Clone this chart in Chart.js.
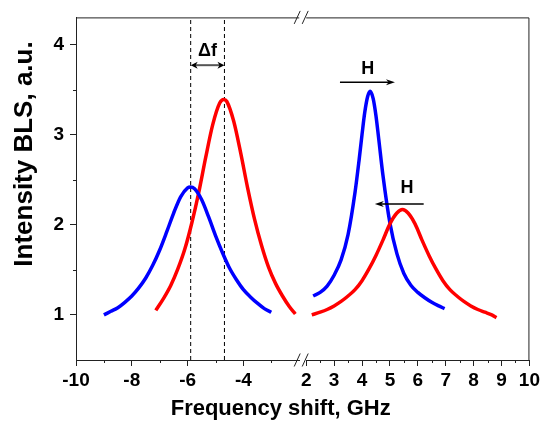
<!DOCTYPE html>
<html>
<head>
<meta charset="utf-8">
<script src="https://cdn.jsdelivr.net/npm/chart.js@4.4.0/dist/chart.umd.min.js"></script>
<style>
  html, body { margin: 0; padding: 0; background: #fff; }
</style>
</head>
<body>
<canvas id="myChart" width="543" height="424"></canvas>
<script>
// broken x axis: left panel -10..-2, right panel 2..10
var xLeftTicks = [-10, -8, -6, -4];
var xLeftMinor = [-9, -7, -5, -3];
var xRightTicks = [2, 3, 4, 5, 6, 7, 8, 9, 10];
var xRightMinor = [2.5, 3.5, 4.5, 5.5, 6.5, 7.5, 8.5, 9.5];
var yTicks = [1, 2, 3, 4];
var yMinor = [1.5, 2.5, 3.5];
var yMin = 0.5, yMax = 4.3;

// left (anti-Stokes) peaks
var blueLeftX = [-9, -8.75, -8.5, -8.25, -8, -7.75, -7.5, -7.25, -7, -6.75, -6.5, -6.25, -6, -5.9, -5.75, -5.5, -5.25, -5, -4.75, -4.5, -4.25, -4, -3.75, -3.5, -3.25, -3];
var blueLeftY = [1.00, 1.04, 1.08, 1.14, 1.21, 1.30, 1.41, 1.55, 1.72, 1.92, 2.13, 2.31, 2.41, 2.42, 2.40, 2.28, 2.09, 1.88, 1.69, 1.52, 1.39, 1.28, 1.20, 1.13, 1.07, 1.03];
var redLeftX = [-7.14, -6.85, -6.6, -6.35, -6.1, -5.85, -5.6, -5.35, -5.1, -4.85, -4.71, -4.6, -4.35, -4.1, -3.85, -3.6, -3.35, -3.1, -2.85, -2.6, -2.35, -2.14];
var redLeftY = [1.05, 1.19, 1.33, 1.51, 1.73, 2.02, 2.36, 2.75, 3.11, 3.35, 3.39, 3.37, 3.15, 2.80, 2.41, 2.06, 1.77, 1.53, 1.35, 1.21, 1.09, 1.01];

// right (Stokes) peaks
var blueRightX = [2.25, 2.5, 2.75, 3, 3.25, 3.5, 3.75, 3.9, 4, 4.1, 4.2, 4.29, 4.4, 4.5, 4.6, 4.75, 5, 5.25, 5.5, 5.75, 6, 6.25, 6.5, 6.75, 6.96];
var blueRightY = [1.21, 1.25, 1.32, 1.44, 1.61, 1.89, 2.36, 2.73, 3.00, 3.25, 3.42, 3.48, 3.40, 3.21, 2.95, 2.55, 2.02, 1.68, 1.46, 1.33, 1.25, 1.19, 1.14, 1.10, 1.07];
var redRightX = [2.2, 2.5, 2.75, 3, 3.25, 3.5, 3.75, 4, 4.25, 4.5, 4.75, 5, 5.25, 5.45, 5.65, 5.9, 6.15, 6.4, 6.65, 6.9, 7.15, 7.4, 7.65, 7.9, 8.15, 8.4, 8.65, 8.82];
var redRightY = [1.00, 1.03, 1.06, 1.10, 1.15, 1.21, 1.28, 1.38, 1.51, 1.66, 1.83, 2.01, 2.13, 2.17, 2.13, 2.01, 1.83, 1.66, 1.51, 1.38, 1.28, 1.21, 1.15, 1.10, 1.06, 1.03, 1.00, 0.97];

// annotations
var dashX = [-5.89, -4.68];
var deltaY = 3.77;
var deltaLabel = {x: -5.29, y: 3.93, text: "\u0394f"};
var hArrows = [{from: 3.21, to: 5.18, y: 3.58}, {from: 6.21, to: 4.46, y: 2.23}];
var hLabels = [{x: 4.21, y: 3.73, text: "H"}, {x: 5.61, y: 2.41, text: "H"}];
var xTitle = "Frequency shift, GHz";
var yTitle = "Intensity BLS, a.u.";

var FONT = '"Liberation Sans", Arial, sans-serif';
Chart.defaults.font.family = FONT;
Chart.defaults.color = "#000";

function pts(xs, ys) {
    return xs.map(function (x, i) { return {x: x, y: ys[i]}; });
}

function curve(xs, ys, color, axis) {
    return {
        data: pts(xs, ys),
        xAxisID: axis,
        borderColor: color,
        borderWidth: 3.5,
        pointRadius: 0,
        tension: 0.4,
        cubicInterpolationMode: "monotone",
        fill: false
    };
}

function dashLine(x) {
    return {
        data: [{x: x, y: yMin}, {x: x, y: yMax}],
        xAxisID: "xL",
        borderColor: "#000",
        borderWidth: 1,
        borderDash: [4, 3],
        pointRadius: 0,
        fill: false
    };
}

function head(ctx, x, y, dir, len, half) {
    ctx.beginPath();
    ctx.moveTo(x, y);
    ctx.lineTo(x - dir * len, y - half);
    ctx.lineTo(x - dir * len * 0.7, y);
    ctx.lineTo(x - dir * len, y + half);
    ctx.closePath();
    ctx.fill();
}

var extras = {
    id: "extras",
    afterDraw: function (chart) {
        var ctx = chart.ctx;
        var a = chart.chartArea;
        var xl = chart.scales.xL, xr = chart.scales.xR, y = chart.scales.y;
        ctx.save();

        // frame: top and right
        ctx.strokeStyle = "#222";
        ctx.lineWidth = 1;
        ctx.beginPath();
        ctx.moveTo(xl.left, a.top + 0.5);
        ctx.lineTo(xl.right, a.top + 0.5);
        ctx.moveTo(xr.left, a.top + 0.5);
        ctx.lineTo(xr.right - 0.5, a.top + 0.5);
        ctx.lineTo(xr.right - 0.5, a.bottom);
        ctx.stroke();

        // break marks
        var mid = (xl.right + xr.left) / 2;
        [a.top, a.bottom].forEach(function (yy) {
            ctx.beginPath();
            ctx.moveTo(mid - 8.5, yy + 6.5);
            ctx.lineTo(mid - 2.5, yy - 6.5);
            ctx.moveTo(mid - 0.5, yy + 6.5);
            ctx.lineTo(mid + 5.5, yy - 6.5);
            ctx.stroke();
        });

        // minor ticks
        ctx.beginPath();
        xLeftMinor.forEach(function (v) {
            var px = Math.round(xl.getPixelForValue(v)) + 0.5;
            ctx.moveTo(px, a.bottom);
            ctx.lineTo(px, a.bottom + 3);
        });
        xRightMinor.forEach(function (v) {
            var px = Math.round(xr.getPixelForValue(v)) + 0.5;
            ctx.moveTo(px, a.bottom);
            ctx.lineTo(px, a.bottom + 3);
        });
        yMinor.forEach(function (v) {
            var py = Math.round(y.getPixelForValue(v)) + 0.5;
            ctx.moveTo(a.left, py);
            ctx.lineTo(a.left - 3, py);
        });
        ctx.stroke();

        // delta f double arrow
        var dx1 = xl.getPixelForValue(dashX[0]), dx2 = xl.getPixelForValue(dashX[1]);
        var dy = y.getPixelForValue(deltaY);
        ctx.strokeStyle = "#555";
        ctx.lineWidth = 2;
        ctx.beginPath();
        ctx.moveTo(dx1 + 4, dy);
        ctx.lineTo(dx2 - 4, dy);
        ctx.stroke();
        ctx.fillStyle = "#000";
        head(ctx, dx1, dy, -1, 7, 3.5);
        head(ctx, dx2, dy, 1, 7, 3.5);

        // H arrows
        ctx.strokeStyle = "#000";
        ctx.lineWidth = 1.5;
        hArrows.forEach(function (h) {
            var x1 = xr.getPixelForValue(h.from), x2 = xr.getPixelForValue(h.to);
            var py = y.getPixelForValue(h.y);
            var dir = x2 > x1 ? 1 : -1;
            ctx.beginPath();
            ctx.moveTo(x1, py);
            ctx.lineTo(x2 - dir * 5, py);
            ctx.stroke();
            head(ctx, x2, py, dir, 9, 3);
        });

        // labels
        ctx.font = "bold 18px " + FONT;
        ctx.textAlign = "center";
        ctx.textBaseline = "middle";
        ctx.fillText(deltaLabel.text, xl.getPixelForValue(deltaLabel.x), y.getPixelForValue(deltaLabel.y));
        hLabels.forEach(function (l) {
            ctx.fillText(l.text, xr.getPixelForValue(l.x), y.getPixelForValue(l.y));
        });

        // axis titles
        ctx.font = "bold 22px " + FONT;
        ctx.fillText(xTitle, (a.left + a.right) / 2 - 22, 409);
        ctx.translate(25, 154);
        ctx.rotate(-Math.PI / 2);
        ctx.font = "bold 26px " + FONT;
        ctx.fillText(yTitle, 0, 0);

        ctx.restore();
    }
};

var tickFont = {size: 19, weight: "bold"};
var axisGrid = {drawOnChartArea: false, tickLength: 6, color: "#222", lineWidth: 1};
var axisBorder = {color: "#222", width: 1};

var myChart = new Chart(document.getElementById("myChart"), {
    type: "line",
    data: {
        datasets: [
            curve(blueLeftX, blueLeftY, "#0000ff", "xL"),
            curve(redLeftX, redLeftY, "#ff0000", "xL"),
            curve(redRightX, redRightY, "#ff0000", "xR"),
            curve(blueRightX, blueRightY, "#0000ff", "xR"),
            dashLine(dashX[0]),
            dashLine(dashX[1])
        ]
    },
    options: {
        responsive: false,
        animation: false,
        layout: {padding: {top: 11, right: 12, left: 0, bottom: 0}},
        plugins: {legend: {display: false}, tooltip: {enabled: false}},
        scales: {
            xL: {
                type: "linear", axis: "x", position: "bottom",
                stack: "x", stackWeight: 8,
                min: -10, max: -2,
                grid: axisGrid, border: axisBorder,
                ticks: {font: tickFont, padding: 3, autoSkip: false, maxRotation: 0},
                afterBuildTicks: function (s) { s.ticks = xLeftTicks.map(function (v) { return {value: v}; }); },
                afterFit: function (s) { s.height = 64; }
            },
            gap: {
                type: "linear", axis: "x", position: "bottom",
                stack: "x", stackWeight: 0.25,
                grid: {display: false}, border: {display: false},
                ticks: {display: false},
                afterFit: function (s) { s.height = 64; }
            },
            xR: {
                type: "linear", axis: "x", position: "bottom",
                stack: "x", stackWeight: 8,
                min: 2, max: 10,
                grid: axisGrid, border: axisBorder,
                ticks: {font: tickFont, padding: 3, autoSkip: false, maxRotation: 0},
                afterBuildTicks: function (s) { s.ticks = xRightTicks.map(function (v) { return {value: v}; }); },
                afterFit: function (s) { s.height = 64; }
            },
            y: {
                type: "linear", position: "left",
                min: yMin, max: yMax,
                grid: axisGrid, border: axisBorder,
                ticks: {font: tickFont, padding: 6},
                afterBuildTicks: function (s) { s.ticks = yTicks.map(function (v) { return {value: v}; }); },
                afterFit: function (s) { s.width = 76; }
            }
        }
    },
    plugins: [extras]
});
</script>
</body>
</html>
